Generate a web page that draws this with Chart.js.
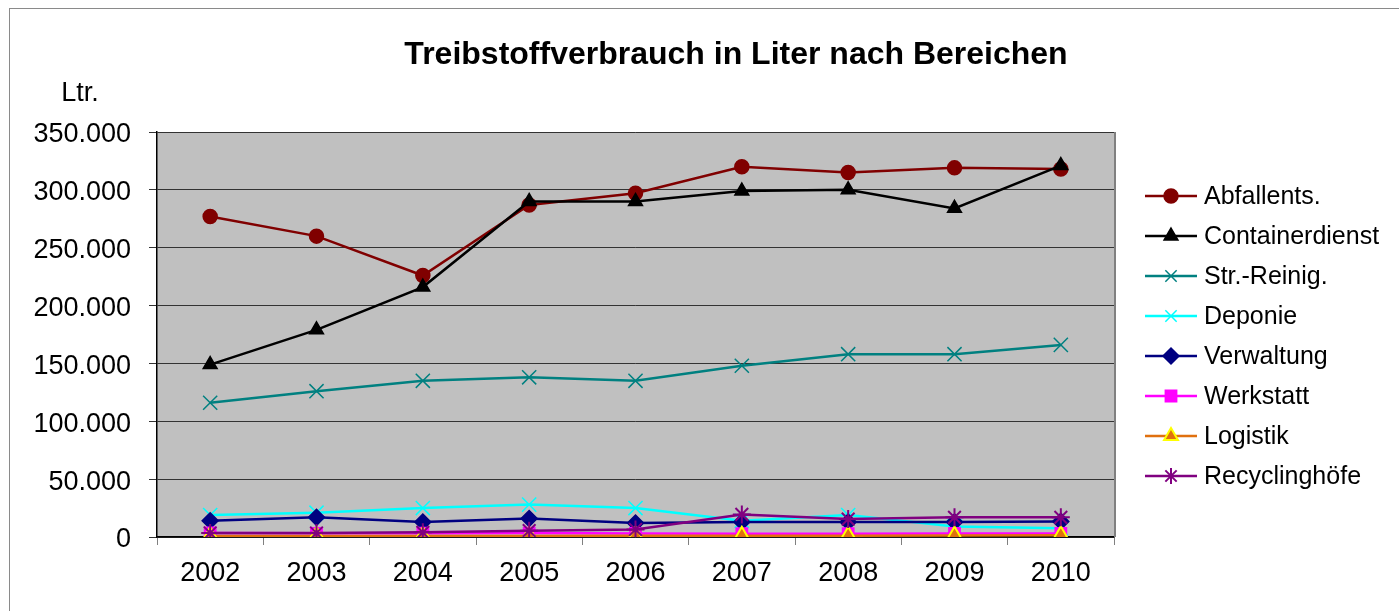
<!DOCTYPE html>
<html lang="de">
<head>
    <meta charset="UTF-8">
    <title>Treibstoffverbrauch</title>
    <script src="https://cdn.jsdelivr.net/npm/chart.js"></script>
    <style>
        body { margin: 0; background: #fff; font-family: Arial, "Liberation Sans", sans-serif; }
        #wrap { width: 1399px; height: 611px; }
    </style>
</head>
<body>
    <div id="wrap"><canvas id="chartCanvas" width="1399" height="611"></canvas></div>

    <script>
        const years = ['2002', '2003', '2004', '2005', '2006', '2007', '2008', '2009', '2010'];
        const abfallents = [277000, 260000, 226000, 287000, 297000, 320000, 315000, 319000, 318000];
        const containerdienst = [149000, 179000, 216000, 290000, 290000, 299000, 300000, 284000, 321000];
        const strReinig = [116000, 126000, 135000, 138000, 135000, 148000, 158000, 158000, 166000];
        const deponie = [19000, 21000, 25000, 28000, 25000, 14000, 19000, 9000, 7500];
        const verwaltung = [14000, 17000, 13000, 16000, 12000, 13000, 13000, 13000, 13500];
        const werkstatt = [3500, 3200, 3300, 3400, 3000, 2800, 2900, 3000, 3100];
        const logistik = [800, 800, 900, 900, 1000, 1000, 1100, 1200, 1500];
        const recycling = [3500, 3500, 4000, 5500, 6500, 19500, 15500, 17000, 17000];
        const yTicks = [0, 50000, 100000, 150000, 200000, 250000, 300000, 350000];

        const FONT = 'Arial, "Liberation Sans", sans-serif';

        function fmt(v) {
            return String(v).replace(/\B(?=(\d{3})+(?!\d))/g, '.');
        }

        function series(label, data, color, style, radius, extra) {
            return Object.assign({
                label: label,
                data: data,
                borderColor: color,
                backgroundColor: color,
                pointBackgroundColor: color,
                pointBorderColor: color,
                borderWidth: 2.5,
                pointStyle: style,
                pointRadius: radius,
                pointBorderWidth: 1.5,
                tension: 0,
                fill: false
            }, extra || {});
        }

        const datasets = [
            series('Abfallents.', abfallents, '#800000', 'circle', 7),
            series('Containerdienst', containerdienst, '#000000', 'triangle', 8),
            series('Str.-Reinig.', strReinig, '#008080', 'crossRot', 10),
            series('Deponie', deponie, '#00ffff', 'crossRot', 10),
            series('Verwaltung', verwaltung, '#000080', 'rectRot', 8),
            series('Werkstatt', werkstatt, '#ff00ff', 'rect', 8),
            series('Logistik', logistik, '#e0700f', 'triangle', 9,
                { pointBackgroundColor: '#e0700f', pointBorderColor: '#ffff00', pointBorderWidth: 2 }),
            series('Recyclinghöfe', recycling, '#800080', 'star', 9, { pointBorderWidth: 2 })
        ];
        datasets.forEach((d, i) => { d.order = datasets.length - i; });

        // gray plot background + outer frame
        const frame = {
            id: 'frame',
            beforeDraw(chart) {
                const { ctx, chartArea: a } = chart;
                ctx.save();
                ctx.fillStyle = '#c0c0c0';
                ctx.fillRect(a.left, a.top, a.right - a.left, a.bottom - a.top);
                ctx.strokeStyle = '#8a8a8a';
                ctx.lineWidth = 1;
                ctx.strokeRect(9.5, 8.5, 1420, 640);
                ctx.restore();
            },
            afterDatasetsDraw(chart) {
                const { ctx, chartArea: a } = chart;
                ctx.save();
                ctx.strokeStyle = '#808080';
                ctx.lineWidth = 2;
                ctx.beginPath();
                ctx.moveTo(a.right + 1, a.top);
                ctx.lineTo(a.right + 1, a.bottom);
                ctx.stroke();
                ctx.restore();
            },
            afterDraw(chart) {
                const ctx = chart.ctx;
                ctx.save();
                ctx.fillStyle = '#000';
                ctx.textAlign = 'center';
                ctx.textBaseline = 'alphabetic';
                ctx.font = 'bold 32px ' + FONT;
                ctx.fillText('Treibstoffverbrauch in Liter nach Bereichen', 736, 64);
                ctx.font = '27px ' + FONT;
                ctx.fillText('Ltr.', 80, 101);

                // legend: line with marker
                ctx.font = '25px ' + FONT;
                ctx.textAlign = 'left';
                ctx.textBaseline = 'middle';
                chart.data.datasets.forEach((d, i) => {
                    const y = 196 + i * 40;
                    ctx.strokeStyle = d.borderColor;
                    ctx.lineWidth = 2.5;
                    ctx.beginPath();
                    ctx.moveTo(1145, y);
                    ctx.lineTo(1197, y);
                    ctx.stroke();
                    if (Chart.helpers && Chart.helpers.drawPoint) {
                        ctx.fillStyle = d.pointBackgroundColor;
                        ctx.strokeStyle = d.pointBorderColor;
                        ctx.lineWidth = d.pointBorderWidth;
                        Chart.helpers.drawPoint(ctx, {
                            pointStyle: d.pointStyle,
                            radius: Math.min(d.pointRadius, 8),
                            borderWidth: d.pointBorderWidth,
                            rotation: 0
                        }, 1171, y);
                    }
                    ctx.fillStyle = '#000';
                    ctx.fillText(d.label, 1204, y + 1);
                });
                ctx.restore();
            }
        };

        const ctx = document.getElementById('chartCanvas').getContext('2d');
        new Chart(ctx, {
            type: 'line',
            data: { labels: years, datasets: datasets },
            options: {
                responsive: false,
                animation: false,
                layout: { padding: { left: 0, top: 132, right: 285, bottom: 0 } },
                plugins: {
                    legend: { display: false },
                    title: { display: false },
                    tooltip: { enabled: false }
                },
                scales: {
                    x: {
                        offset: true,
                        grid: {
                            offset: true,
                            drawOnChartArea: false,
                            drawTicks: true,
                            tickLength: 8,
                            color: '#808080'
                        },
                        border: { color: '#000', width: 1.5 },
                        ticks: {
                            color: '#000',
                            font: { family: FONT, size: 27 },
                            padding: 12,
                            maxRotation: 0
                        },
                        afterFit(scale) { scale.height = 74; }
                    },
                    y: {
                        min: 0,
                        max: 350000,
                        afterBuildTicks(scale) { scale.ticks = yTicks.map(v => ({ value: v })); },
                        grid: {
                            color: '#333',
                            lineWidth: 1,
                            tickLength: 8,
                            tickColor: '#333'
                        },
                        border: { color: '#000', width: 1.5 },
                        ticks: {
                            color: '#000',
                            font: { family: FONT, size: 27 },
                            padding: 18,
                            labelOffset: 3,
                            callback: v => fmt(v)
                        },
                        afterFit(scale) { scale.width = 157; }
                    }
                }
            },
            plugins: [frame]
        });
    </script>
</body>
</html>
